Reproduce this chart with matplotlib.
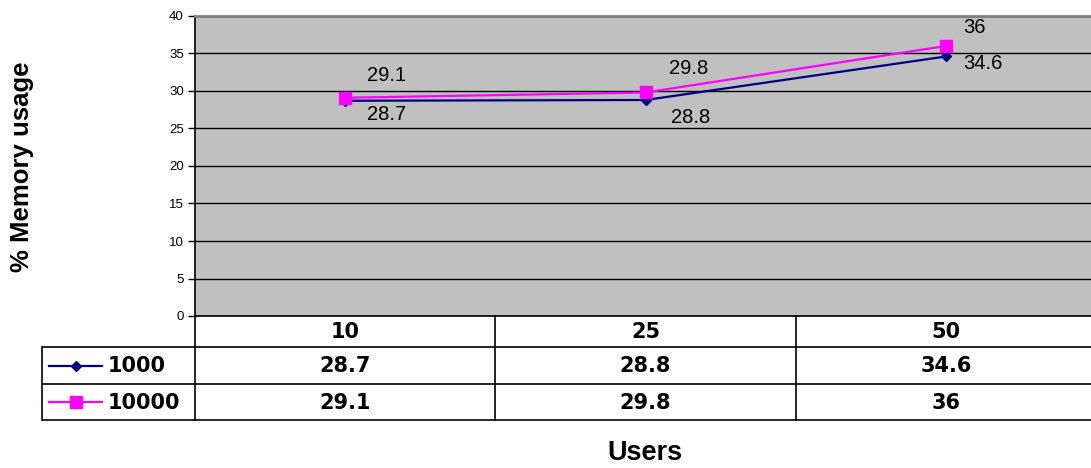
import matplotlib
matplotlib.use("Agg")
import matplotlib.pyplot as plt

users = ["10", "25", "50"]
series_names = ["1000", "10000"]
mem_1000 = [28.7, 28.8, 34.6]
mem_10000 = [29.1, 29.8, 36]

W, H = 1091, 468
fig = plt.figure(figsize=(W / 100, H / 100), dpi=100)
fig.patch.set_facecolor("white")

# plot area in pixels: x 195..1096, y 16..316
ax = fig.add_axes([195 / W, (H - 316) / H, 901 / W, 300 / H])
ax.set_facecolor("#C0C0C0")
ax.set_xlim(0, 3)
ax.set_ylim(0, 40)
ax.set_yticks(range(0, 41, 5))
ax.set_xticks([])
ax.yaxis.grid(True, color="black", linewidth=1)
ax.set_axisbelow(True)
ax.spines["right"].set_visible(False)
ax.spines["top"].set_color("#808080")
ax.spines["top"].set_linewidth(2)
ax.spines["left"].set_linewidth(1.2)
ax.spines["bottom"].set_linewidth(1.2)
ax.tick_params(axis="y", length=5, width=1, labelsize=9.5, pad=3)
for lab in ax.get_yticklabels():
    lab.set_fontfamily("Liberation Sans")

xs = [i + 0.5 for i in range(len(users))]
styles = [
    dict(color="#000080", marker="D", markersize=5.5),
    dict(color="#FF00FF", marker="s", markersize=8),
]
offsets = [
    [(22, -14), (25, -18), (17, -7)],
    [(22, 22), (23, 24), (17, 18)],
]
for vals, st, offs in zip([mem_1000, mem_10000], styles, offsets):
    ax.plot(xs, vals, linewidth=1.6, clip_on=False, zorder=3, **st)
    for x, v, (dx, dy) in zip(xs, vals, offs):
        ax.annotate(f"{v:g}", (x, v), xytext=(dx, dy), textcoords="offset pixels",
                    ha="left", va="center", fontsize=14.5, family="Liberation Sans")

# data table under the plot, drawn in pixel coordinates
tab = fig.add_axes([0, 0, 1, 1], facecolor="none")
tab.set_xlim(0, W)
tab.set_ylim(H, 0)
tab.axis("off")

fig.canvas.draw()
col_x = [ax.transData.transform((i, 0))[0] for i in range(len(users) + 1)]
row_y = [316, 347, 384, 420]
left = 42
lw = 1.2
for y in row_y[1:]:
    tab.plot([left, W], [y, y], color="black", linewidth=lw, solid_capstyle="butt")
for x in col_x:
    tab.plot([x, x], [row_y[0], row_y[-1]], color="black", linewidth=lw)
tab.plot([left, left], [row_y[1], row_y[-1]], color="black", linewidth=lw)

tfont = dict(family="DejaVu Sans", fontweight="bold", fontsize=15)
for i, u in enumerate(users):
    cx = (col_x[i] + col_x[i + 1]) / 2
    tab.text(cx, (row_y[0] + row_y[1]) / 2 + 1, u, ha="center", va="center", **tfont)
for r, (name, vals, st) in enumerate(zip(series_names, [mem_1000, mem_10000], styles)):
    cy = (row_y[r + 1] + row_y[r + 2]) / 2
    tab.plot([49, 102], [cy, cy], color=st["color"], linewidth=1.6)
    tab.plot([75.5], [cy], linestyle="none", **st)
    tab.text(108, cy + 1, name, ha="left", va="center", **tfont)
    for i, v in enumerate(vals):
        cx = (col_x[i] + col_x[i + 1]) / 2
        tab.text(cx, cy + 1, f"{v:g}", ha="center", va="center", **tfont)

fig.text(22 / W, 1 - 167 / H, "% Memory usage", rotation=90, ha="center", va="center",
         family="Liberation Sans", fontweight="bold", fontsize=18.5)
fig.text(645 / W, 1 - 453 / H, "Users", ha="center", va="center",
         family="Liberation Sans", fontweight="bold", fontsize=19.5)

fig.savefig("out.png", dpi=100)
